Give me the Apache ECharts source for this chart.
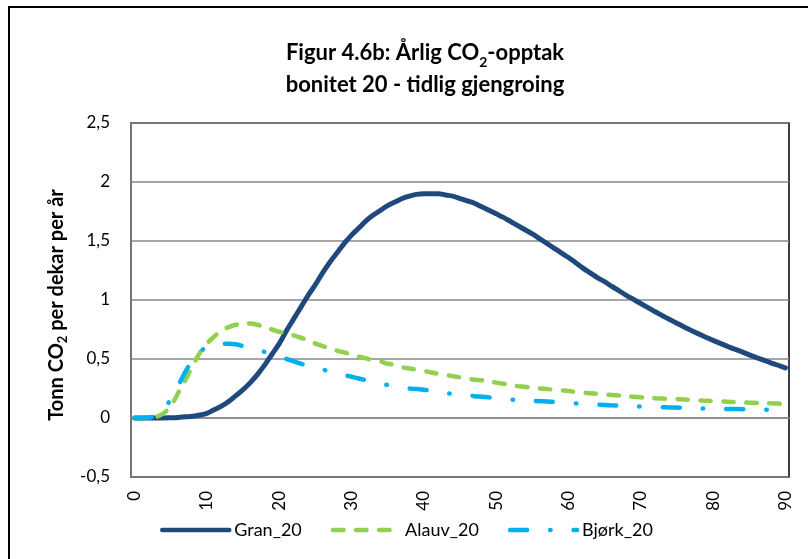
<!DOCTYPE html>
<html>
<head>
<meta charset="utf-8">
<script src="https://cdn.jsdelivr.net/npm/echarts@6/dist/echarts.min.js"></script>
<style>html,body{margin:0;padding:0;background:#fff}#c{width:808px;height:559px}</style>
</head>
<body>
<div id="c"></div>
<script>
// Years 0..90
var years = [];
for (var i = 0; i <= 90; i++) years.push(String(i));

var gran20 = [0,0,0,0,0,0.002,0.005,0.01,0.015,0.025,
  0.04,0.07,0.1,0.14,0.19,0.24,0.3,0.37,0.45,0.54,
  0.63,0.74,0.84,0.94,1.04,1.13,1.23,1.32,1.4,1.48,
  1.55,1.61,1.67,1.72,1.76,1.8,1.83,1.86,1.88,1.895,
  1.9,1.9,1.9,1.89,1.88,1.86,1.84,1.82,1.79,1.76,
  1.73,1.7,1.665,1.63,1.595,1.56,1.52,1.48,1.44,1.4,
  1.36,1.315,1.27,1.23,1.19,1.155,1.115,1.078,1.04,1.005,
  0.97,0.935,0.9,0.867,0.835,0.803,0.772,0.742,0.713,0.685,
  0.658,0.632,0.607,0.583,0.56,0.535,0.512,0.49,0.468,0.447,0.425];

var alauv20 = [0,0,0,0.01,0.04,0.1,0.21,0.32,0.44,0.55,
  0.63,0.69,0.74,0.77,0.79,0.8,0.8,0.79,0.77,0.75,
  0.73,0.72,0.7,0.68,0.66,0.63,0.61,0.59,0.57,0.555,
  0.54,0.52,0.505,0.49,0.48,0.46,0.45,0.43,0.42,0.41,
  0.4,0.385,0.375,0.365,0.355,0.345,0.335,0.325,0.32,0.31,
  0.3,0.29,0.28,0.27,0.265,0.255,0.25,0.245,0.24,0.235,
  0.23,0.22,0.215,0.21,0.205,0.2,0.195,0.19,0.185,0.18,
  0.175,0.17,0.168,0.165,0.162,0.16,0.157,0.153,0.15,0.147,
  0.144,0.141,0.138,0.135,0.133,0.13,0.128,0.126,0.124,0.122,0.12];

var bjork20 = [0,0,0.005,0.02,0.07,0.16,0.27,0.39,0.49,0.56,
  0.6,0.62,0.63,0.63,0.625,0.61,0.595,0.58,0.56,0.54,
  0.52,0.5,0.48,0.46,0.44,0.425,0.41,0.395,0.38,0.365,
  0.35,0.335,0.32,0.305,0.29,0.28,0.27,0.26,0.25,0.245,
  0.24,0.23,0.22,0.21,0.205,0.2,0.195,0.185,0.18,0.175,
  0.17,0.163,0.157,0.152,0.148,0.145,0.142,0.14,0.136,0.132,
  0.128,0.124,0.12,0.117,0.114,0.11,0.107,0.105,0.103,0.1,
  0.098,0.096,0.094,0.092,0.09,0.088,0.086,0.084,0.082,0.08,
  0.079,0.078,0.077,0.076,0.075,0.074,0.072,0.07,0.069,0.068,0.066];

var seriesNames = ['Gran_20', 'Alauv_20', 'Bjørk_20'];
var xTickLabels = ['0','10','20','30','40','50','60','70','80','90'];

var FONT = 'Lato';
var chart = echarts.init(document.getElementById('c'), null, {renderer: 'canvas'});

var option = {
  backgroundColor: '#fff',
  animation: false,
  textStyle: {fontFamily: FONT},
  graphic: [{
    type: 'rect', silent: true, z: 100,
    shape: {x: 9, y: 7, width: 900, height: 700},
    style: {fill: 'none', stroke: '#000', lineWidth: 2}
  }],
  title: {
    left: 420,
    textAlign: 'center',
    top: 32,
    padding: [5, 5, 5, 5],
    text: '{m|Figur 4.6b: Årlig CO}{s|2}{m|-opptak}\n{m|bonitet 20 - tidlig gjengroing}',
    textStyle: {
      rich: {
        m: {fontFamily: FONT, fontWeight: 'bold', fontSize: 22, lineHeight: 32, color: '#000'},
        s: {fontFamily: FONT, fontWeight: 'bold', fontSize: 14, lineHeight: 20, verticalAlign: 'bottom', color: '#000'}
      }
    }
  },
  legend: {
    left: 155,
    top: 516,
    itemWidth: 67,
    itemHeight: 20,
    itemGap: 29,
    data: seriesNames,
    itemStyle: {opacity: 0},
    lineStyle: {width: 4.5, cap: 'round'},
    textStyle: {fontFamily: FONT, fontSize: 18, color: '#000'}
  },
  grid: {
    left: 131, right: 19, top: 123, bottom: 82,
    show: true, borderColor: '#000', borderWidth: 1.5, backgroundColor: '#fff'
  },
  xAxis: {
    type: 'category',
    data: years,
    boundaryGap: true,
    axisLine: {onZero: true, lineStyle: {color: '#888', width: 1.5}},
    axisTick: {show: false},
    splitLine: {show: false},
    axisLabel: {
      rotate: 90,
      margin: 14,
      fontFamily: FONT,
      fontSize: 17,
      color: '#000',
      interval: function (idx, val) { return xTickLabels.indexOf(val) >= 0; }
    }
  },
  yAxis: {
    type: 'value',
    min: -0.5, max: 2.5, interval: 0.5,
    name: '{m|Tonn CO}{s|2}{m| per dekar per år}',
    nameLocation: 'middle',
    nameGap: 58,
    nameRotate: 90,
    nameTextStyle: {
      padding: [0, 10, 0, 0],
      rich: {
        m: {fontFamily: FONT, fontWeight: 'bold', fontSize: 20, lineHeight: 26, color: '#000'},
        s: {fontFamily: FONT, fontWeight: 'bold', fontSize: 13, lineHeight: 17, verticalAlign: 'bottom', color: '#000'}
      }
    },
    axisLine: {show: true, lineStyle: {color: '#888', width: 1.5}},
    axisTick: {show: false},
    splitLine: {lineStyle: {color: '#888', width: 1.5}},
    axisLabel: {
      margin: 21,
      fontFamily: FONT,
      fontSize: 17,
      color: '#000',
      formatter: function (v) { return String(Math.round(v * 10) / 10).replace('.', ','); }
    }
  },
  series: [
    {
      name: seriesNames[0], type: 'line', data: gran20, smooth: 0.4,
      symbol: 'none', showSymbol: false, z: 3,
      itemStyle: {color: '#1F497D'},
      lineStyle: {color: '#1F497D', width: 5, cap: 'round'}
    },
    {
      name: seriesNames[1], type: 'line', data: alauv20, smooth: 0.4,
      symbol: 'none', showSymbol: false, z: 4,
      itemStyle: {color: '#92D050'},
      lineStyle: {color: '#92D050', width: 4.5, type: [10.5, 12.5], cap: 'round'}
    },
    {
      name: seriesNames[2], type: 'line', data: bjork20, smooth: 0.4,
      symbol: 'none', showSymbol: false, z: 5,
      itemStyle: {color: '#00B0F0'},
      lineStyle: {color: '#00B0F0', width: 4.5, type: [17, 23, 0.5, 23], cap: 'round'}
    }
  ]
};
chart.setOption(option);
</script>
</body>
</html>
